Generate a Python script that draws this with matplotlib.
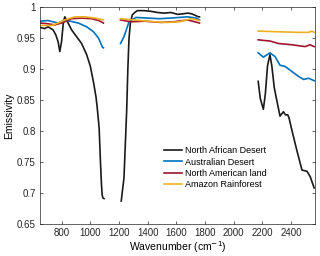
import numpy as np
import matplotlib
matplotlib.use("Agg")
import matplotlib.pyplot as plt

nan = np.nan

# North African Desert (black)
naf_wn = [650, 683, 706, 741, 760, 776, 788, 800, 811, 818, 823, 835, 846, 870, 905, 940, 975, 1000, 1024, 1040, 1048, 1062, 1071, 1078, 1083, 1088, 1096,
          1150,
          1216, 1225, 1235, 1249, 1254, 1262, 1270, 1280, 1293, 1310, 1328, 1350, 1375, 1420, 1469, 1515, 1562, 1609, 1650, 1679, 1705, 1726, 1754, 1761,
          2000,
          2170, 2185, 2206, 2220, 2235, 2252, 2265, 2282, 2299, 2322, 2346, 2360, 2376, 2385, 2404, 2439, 2475, 2510, 2533, 2560]
naf_em = [0.967, 0.965, 0.968, 0.963, 0.955, 0.944, 0.928, 0.944, 0.971, 0.980, 0.984, 0.979, 0.974, 0.963, 0.952, 0.941, 0.923, 0.905, 0.877, 0.855, 0.839, 0.805, 0.751, 0.715, 0.697, 0.692, 0.691,
          nan,
          0.687, 0.705, 0.724, 0.805, 0.834, 0.900, 0.949, 0.975, 0.987, 0.991, 0.994, 0.994, 0.994, 0.993, 0.991, 0.990, 0.991, 0.988, 0.989, 0.990, 0.989, 0.987, 0.984, 0.984,
          nan,
          0.880, 0.852, 0.835, 0.860, 0.905, 0.923, 0.905, 0.870, 0.850, 0.824, 0.831, 0.826, 0.826, 0.821, 0.802, 0.769, 0.737, 0.735, 0.726, 0.708]

# Australian Desert (blue)
aus_wn = [650, 706, 741, 776, 800, 811, 860, 917, 975, 1022, 1057, 1085, 1092,
          1150,
          1211, 1235, 1270, 1317, 1400, 1480, 1562, 1620, 1679, 1738, 1761,
          2000,
          2170, 2206, 2252, 2287, 2322, 2357, 2404, 2451, 2486, 2521, 2560]
aus_em = [0.977, 0.978, 0.976, 0.974, 0.976, 0.978, 0.977, 0.974, 0.968, 0.960, 0.950, 0.935, 0.934,
          nan,
          0.941, 0.952, 0.976, 0.983, 0.982, 0.981, 0.982, 0.983, 0.984, 0.982, 0.979,
          nan,
          0.926, 0.919, 0.926, 0.920, 0.906, 0.904, 0.896, 0.888, 0.883, 0.885, 0.881]

# North American land (red)
nam_wn = [650, 700, 753, 800, 870, 940, 1010, 1060, 1092,
          1150,
          1211, 1281, 1380, 1492, 1580, 1679, 1761,
          2000,
          2170, 2206, 2252, 2311, 2404, 2498, 2530, 2560]
nam_em = [0.974, 0.973, 0.971, 0.974, 0.981, 0.982, 0.981, 0.978, 0.974,
          nan,
          0.979, 0.976, 0.977, 0.975, 0.976, 0.979, 0.974,
          nan,
          0.947, 0.946, 0.945, 0.941, 0.939, 0.936, 0.939, 0.936]

# Amazon Rainforest (orange)
ama_wn = [650, 730, 776, 823, 893, 963, 1034, 1092,
          1150,
          1211, 1305, 1445, 1539, 1620, 1703, 1761,
          2000,
          2170, 2300, 2450, 2520, 2545, 2560]
ama_em = [0.970, 0.970, 0.974, 0.979, 0.984, 0.984, 0.982, 0.979,
          nan,
          0.981, 0.979, 0.976, 0.975, 0.976, 0.981, 0.978,
          nan,
          0.961, 0.960, 0.959, 0.959, 0.961, 0.959]

labels = ["North African Desert", "Australian Desert", "North American land", "Amazon Rainforest"]
colors = ["#1a1a1a", "#0072BD", "#A2142F", "#EDB120"]

xticks = [800, 1000, 1200, 1400, 1600, 1800, 2000, 2200, 2400]
yticks = [0.65, 0.7, 0.75, 0.8, 0.85, 0.9, 0.95, 1.0]
ytick_labels = ["0.65", "0.7", "0.75", "0.8", "0.85", "0.9", "0.95", "1"]

plt.rcParams['font.family'] = ['Liberation Sans', 'DejaVu Sans']

fig = plt.figure(figsize=(3.2, 2.56), dpi=100)
ax = fig.add_axes([0.125, 0.125, 0.859, 0.848])

series = [(naf_wn, naf_em), (aus_wn, aus_em), (nam_wn, nam_em), (ama_wn, ama_em)]
for (wn, em), lab, col in zip(series, labels, colors):
    ax.plot(wn, em, color=col, lw=1.2, label=lab)

ax.set_xlim(650, 2565)
ax.set_ylim(0.65, 1.0)
ax.set_xticks(xticks)
ax.set_yticks(yticks)
ax.set_yticklabels(ytick_labels)
ax.tick_params(direction='in', length=2.5, width=0.5, labelsize=7, top=True, right=True,
               colors='#262626', pad=3)
for s in ax.spines.values():
    s.set_linewidth(0.5)
    s.set_color('#262626')
ax.set_xlabel("Wavenumber (cm$^{-1}$)", fontsize=7.5, labelpad=1)
ax.set_ylabel("Emissivity", fontsize=7.5, labelpad=2)

leg = ax.legend(loc='lower left', bbox_to_anchor=(0.436, 0.14), frameon=False, fontsize=6.5,
                handlelength=2.0, handletextpad=0.25, labelspacing=0.25, borderpad=0)

fig.savefig("out.png", dpi=100)
